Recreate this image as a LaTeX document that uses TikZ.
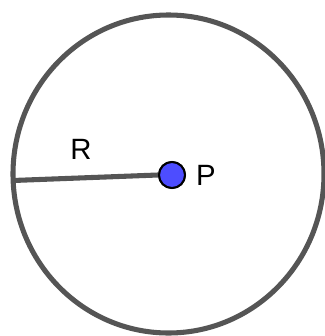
\documentclass[tikz,border=0pt]{standalone}
\usepackage{fontspec}
\setmainfont{Liberation Sans}
\definecolor{rim}{HTML}{555555}
\definecolor{ptblue}{HTML}{4D4DFF}
\begin{document}
\begin{tikzpicture}[x=0.75pt,y=-0.75pt,
  rimline/.style={draw=rim,line width=3.8pt},
  lbl/.style={inner sep=0pt,font=\fontsize{22}{24}\selectfont},
  ptdot/.style={circle,fill=ptblue,draw=black,line width=1.5pt,minimum size=19.5pt,inner sep=0pt}]
\useasboundingbox (0,0) rectangle (325,336);
\draw[rimline] (168.5,174) ellipse [x radius=155.5, y radius=159];
\coordinate (A) at (13,180.5);
\node[ptdot] (P) at (172,175) {};
\draw[rimline] (A) -- (P.west);
\node[ptdot] at (P) {};
\node[lbl] (Pl) at (206,175.5) {P};
\node[lbl] (Rl) at (81,149) {R};
\end{tikzpicture}
\end{document}
